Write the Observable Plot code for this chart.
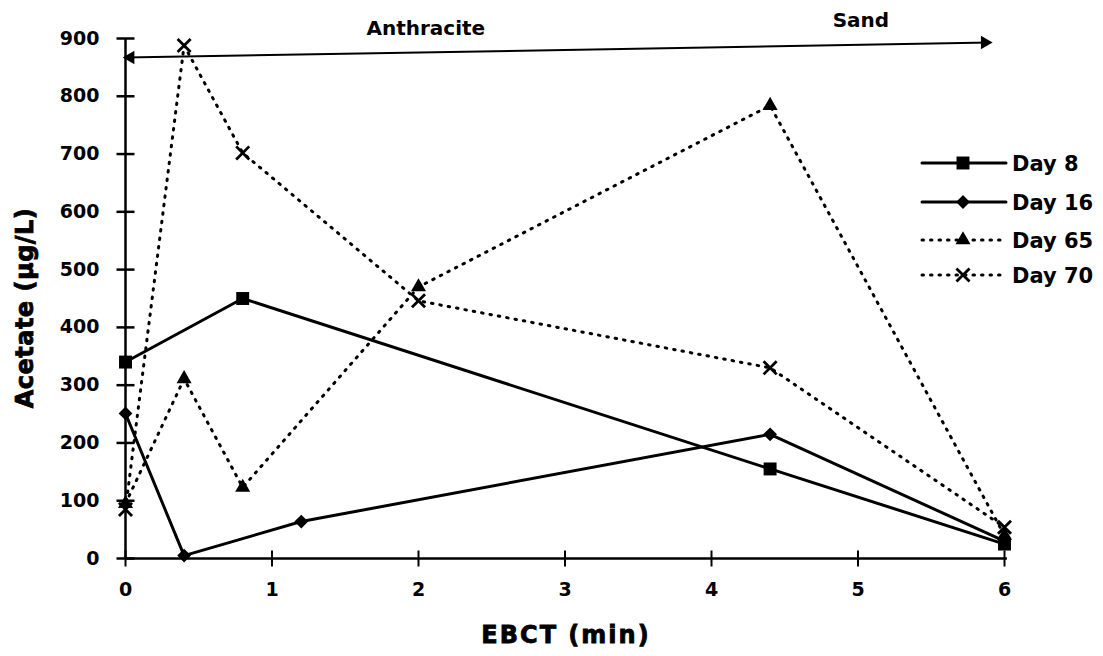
<!DOCTYPE html>
<html>
<head>
<meta charset="utf-8">
<script src="https://cdn.jsdelivr.net/npm/d3@7"></script>
<script src="https://cdn.jsdelivr.net/npm/@observablehq/plot@0.6"></script>
<style>
  html, body { margin: 0; padding: 0; background: #fff; }
  #chart { position: relative; width: 1103px; height: 656px; }
</style>
</head>
<body>
<div id="chart"></div>
<script>
// ---- data ----
const seriesNames = ["Day 8", "Day 16", "Day 65", "Day 70"];
const day8X  = [0, 0.8, 4.4, 6];
const day8Y  = [340, 450, 155, 25];
const day16X = [0, 0.4, 1.2, 4.4, 6];
const day16Y = [251, 5, 64, 215, 30];
const day65X = [0, 0.4, 0.8, 2, 4.4, 6];
const day65Y = [95, 311, 123, 470, 784, 40];
const day70X = [0, 0.4, 0.8, 2, 4.4, 6];
const day70Y = [85, 888, 702, 446, 330, 54];
const xTicks = [0, 1, 2, 3, 4, 5, 6];
const yTicks = [0, 100, 200, 300, 400, 500, 600, 700, 800, 900];
const zoneLabels = ["Anthracite", "Sand"];
const zoneLabelX = [2.05, 5.02];
const zoneLabelY = [917, 931];
const arrowX = [0, 5.9];
const arrowY = [867, 893];

const styles = {
  "Day 8":  {symbol: "square",   dash: null},
  "Day 16": {symbol: "diamond2", dash: null},
  "Day 65": {symbol: "triangle", dash: "1.5,7"},
  "Day 70": {symbol: "times",    dash: "1.5,7"}
};
const rows = [];
[[day8X, day8Y], [day16X, day16Y], [day65X, day65Y], [day70X, day70Y]].forEach(([xs, ys], i) => {
  xs.forEach((x, j) => rows.push({series: seriesNames[i], x, y: ys[j]}));
});
const zones = zoneLabels.map((t, i) => ({t, x: zoneLabelX[i], y: zoneLabelY[i]}));
const arrowData = [{x1: arrowX[0], y1: arrowY[0], x2: arrowX[1], y2: arrowY[1]}];

const hTick = {draw(ctx, size) { const r = Math.sqrt(size / Math.PI); ctx.moveTo(-r, 0); ctx.lineTo(r, 0); }};
const vTick = {draw(ctx, size) { const r = Math.sqrt(size / Math.PI); ctx.moveTo(0, -r); ctx.lineTo(0, r); }};

const marks = [
  Plot.ruleX([0], {y1: 0, y2: 900, stroke: "black", strokeWidth: 2.5}),
  Plot.ruleY([0], {x1: 0, x2: 6.02, stroke: "black", strokeWidth: 2.5}),
  Plot.dot(yTicks, {x: 0, y: d => d, symbol: hTick, r: 9, stroke: "black", strokeWidth: 2.5}),
  Plot.dot(xTicks, {x: d => d, y: 0, symbol: vTick, r: 8, stroke: "black", strokeWidth: 2}),
  // tick labels
  Plot.text(yTicks, {x: 0, y: d => d, text: d => String(d), dx: -26, textAnchor: "end", lineAnchor: "middle",
    fontSize: 19, fontWeight: "bold", fontFamily: "DejaVu Sans", fill: "black"}),
  Plot.text(xTicks, {x: d => d, y: 0, text: d => String(d), dy: 24, textAnchor: "middle", lineAnchor: "top",
    fontSize: 19, fontWeight: "bold", fontFamily: "DejaVu Sans", fill: "black"}),
  // zone arrow
  Plot.link(arrowData, {x1: "x1", y1: "y1", x2: "x2", y2: "y2", stroke: "black", strokeWidth: 2}),
  Plot.dot(arrowData, {x: "x1", y: "y1", symbol: "triangle", r: 5, rotate: -90, dx: 5, fill: "black"}),
  Plot.dot(arrowData, {x: "x2", y: "y2", symbol: "triangle", r: 5, rotate: 90, dx: -5, fill: "black"}),
  Plot.text(zones, {x: "x", y: "y", text: "t", fontSize: 20, fontWeight: "bold", fontFamily: "DejaVu Sans", fill: "black", textAnchor: "middle", lineAnchor: "middle"})
];

for (const name of seriesNames) {
  const st = styles[name];
  const data = rows.filter(d => d.series === name);
  marks.push(Plot.line(data, {
    x: "x", y: "y", stroke: "black",
    strokeWidth: 3,
    strokeDasharray: st.dash || undefined,
    strokeLinecap: "round"
  }));
}
for (const name of seriesNames) {
  const st = styles[name];
  const data = rows.filter(d => d.series === name);
  if (st.symbol === "times") {
    marks.push(Plot.dot(data, {x: "x", y: "y", symbol: "times", r: 6, stroke: "black", strokeWidth: 2.8}));
  } else {
    const r = st.symbol === "square" ? 7.3 : st.symbol === "triangle" ? 5.6 : 6.2;
    marks.push(Plot.dot(data, {x: "x", y: "y", symbol: st.symbol, r, fill: "black", stroke: "none"}));
  }
}

const chart = Plot.plot({
  width: 1103,
  height: 656,
  marginLeft: 125,
  marginRight: 99,
  marginTop: 38,
  marginBottom: 98,
  x: {domain: [0, 6], axis: null},
  y: {domain: [0, 900], axis: null},
  style: {background: "white", color: "black", overflow: "visible"},
  marks
});
document.getElementById("chart").appendChild(chart);

// axis titles and legend drawn in the same SVG
const svg = d3.select(chart);
svg.append("text")
  .attr("x", 566).attr("y", 643)
  .attr("text-anchor", "middle")
  .attr("font-family", "DejaVu Sans").attr("font-weight", "bold")
  .attr("font-size", 24).attr("letter-spacing", 2)
  .attr("stroke", "black").attr("stroke-width", 0.8)
  .attr("fill", "black")
  .text("EBCT (min)");
svg.append("text")
  .attr("transform", "translate(33,308) rotate(-90)")
  .attr("text-anchor", "middle")
  .attr("font-family", "DejaVu Sans").attr("font-weight", "bold")
  .attr("font-size", 24).attr("letter-spacing", 0.5)
  .attr("stroke", "black").attr("stroke-width", 0.8)
  .attr("fill", "black")
  .text("Acetate (\u00b5g/L)");

const legendY = [163, 202, 240, 275];
const symMap = {square: d3.symbolSquare, diamond2: d3.symbolDiamond2, triangle: d3.symbolTriangle, times: d3.symbolTimes};
const lg = svg.append("g");
seriesNames.forEach((name, i) => {
  const st = styles[name];
  const y = legendY[i];
  lg.append("line").attr("x1", 922).attr("x2", 1006).attr("y1", y).attr("y2", y)
    .attr("stroke", "black").attr("stroke-width", 3)
    .attr("stroke-dasharray", st.dash || null).attr("stroke-linecap", "round");
  const r = st.symbol === "square" ? 7.3 : st.symbol === "triangle" ? 5.6 : st.symbol === "times" ? 6 : 6.2;
  const path = d3.symbol(symMap[st.symbol], Math.PI * r * r)();
  const p = lg.append("path").attr("d", path).attr("transform", `translate(963,${y})`);
  if (st.symbol === "times") p.attr("fill", "none").attr("stroke", "black").attr("stroke-width", 2.8);
  else p.attr("fill", "black");
  lg.append("text").attr("x", 1012).attr("y", y).attr("dy", "0.36em")
    .attr("text-anchor", "start")
    .attr("font-family", "DejaVu Sans").attr("font-weight", "bold").attr("font-size", 21).attr("fill", "black")
    .text(name);
});
</script>
</body>
</html>
